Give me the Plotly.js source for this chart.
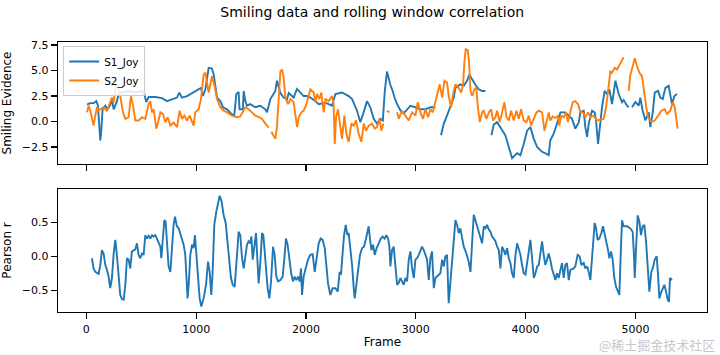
<!DOCTYPE html>
<html>
<head>
<meta charset="utf-8">
<script src="https://cdn.plot.ly/plotly-3.0.1.min.js"></script>
<style>html,body{margin:0;padding:0;background:#fff;}#chart{width:720px;height:355px;}</style>
</head>
<body>
<div id="chart"></div>
<script>
// ---- data ----
const s1Frames = [6,36,66,91,106,121,127,136,148,173,194,218,233,249,279,294,325,385,446,507,528,546,567,628,689,734,780,825,847,871,917,977,1023,1044,1062,1084,1114,1144,1160,1190,1220,1244,1281,1326,1347,1366,1387,1395,1425,1433,1448,1463,1493,1539,1585,1630,1645,1676,1721,1736,1767,1797,1828,1843,1888,1918,1949,1979,2010,2040,2086,2116,2177,2237,2268,2328,2389,2420,2465,2495,2525,2556,2586,2617,2647,2677,2700,2718,2738,2768,2790,2805,2830,2860,2890,2921,2951,2997,3042,3088,3133,3179,3200,3230,3255,3285,3315,3346,3361,3406,3437,3467,3488,3513,3543,3573,3604,3634,3660,3689,3710,3741,3771,3816,3847,3877,3923,3953,3983,3999,4014,4044,4075,4105,4150,4195,4210,4225,4256,4286,4317,4362,4393,4423,4453,4484,4499,4529,4544,4560,4575,4605,4629,4641,4660,4681,4696,4720,4742,4763,4787,4818,4833,4848,4878,4893,4924,4939,4955,4969,5000,5030,5045,5066,5091,5121,5136,5158,5176,5206,5227,5249,5273,5303,5318,5333,5355,5379];
const s1Joy = [1.65,1.8,1.8,2.0,1.55,-0.9,-1.85,-0.9,1.2,1.55,1.2,1.6,2.2,1.2,2.0,2.7,2.85,3.0,2.85,3.0,2.7,1.9,2.4,2.4,2.3,2.0,2.2,2.35,2.84,2.35,2.5,2.84,3.16,3.3,2.5,3.16,5.26,5.2,4.6,2.35,2.0,1.4,1.2,0.7,0.58,2.7,2.9,1.2,1.2,3.0,2.0,1.55,1.7,1.4,1.55,1.2,0.9,2.2,3.0,4.0,2.8,2.35,2.2,2.8,2.35,3.2,2.84,2.5,2.5,2.35,2.0,1.7,1.85,1.55,2.7,2.85,2.5,2.2,1.06,-0.06,0.9,2.0,1.4,0.26,-0.2,0.26,0.1,3.0,4.9,3.6,3.0,2.4,1.7,1.1,0.8,1.2,1.55,1.4,1.2,1.2,1.4,1.4,null,-1.35,-0.2,0.6,1.4,2.35,3.3,3.65,3.5,4.0,4.6,4.1,3.6,3.16,3.0,3.0,null,-1.35,-0.3,-0.06,-0.55,-1.35,-2.5,-3.6,-3.1,-3.3,-2.2,-1.35,-0.9,-0.55,-1.7,-2.5,-2.97,-3.2,-3.3,-1.85,-1.2,-0.2,0.9,0.9,0.58,0.26,-0.7,-0.1,0.9,1.06,-0.55,-1.5,-0.2,1.06,0.9,0.1,-2.2,-0.2,1.4,3.0,2.7,3.16,1.7,4.0,3.3,2.7,1.9,2.1,1.55,1.4,null,1.4,1.9,1.55,2.35,1.06,0.1,0.9,-0.55,0.9,2.84,3.0,2.35,2.2,3.3,3.5,2.35,1.7,2.5,2.7];

const s2Frames = [6,21,36,51,66,82,97,112,157,188,218,233,249,264,279,294,309,334,355,385,406,425,446,476,507,537,567,583,598,613,637,658,674,698,719,741,765,795,826,850,871,892,917,941,962,977,992,1008,1023,1044,1068,1084,1099,1114,1129,1144,1165,1190,1220,1250,1281,1326,1372,1402,1448,1478,1509,1539,1569,1600,1630,1661,1673,1685,1706,1721,1736,1752,1767,1782,1797,1812,1837,1858,1888,1919,1934,1958,1979,2000,2025,2040,2070,2086,2101,2122,2140,2161,2177,2207,2237,2252,2262,2274,2292,2313,2328,2350,2368,2389,2413,2435,2456,2480,2505,2526,2547,2571,2602,2626,2647,2669,2687,2705,2720,2738,2760,2790,2830,2845,2875,2906,2936,2966,2997,3018,3042,3066,3088,3112,3133,3155,3173,3194,3218,3240,3261,3285,3300,3322,3340,3361,3391,3413,3431,3443,3455,3473,3485,3498,3513,3534,3552,3564,3583,3604,3619,3643,3665,3686,3704,3725,3741,3765,3786,3807,3826,3847,3868,3892,3917,3938,3959,3983,4008,4029,4050,4075,4099,4120,4150,4172,4190,4211,4225,4246,4271,4295,4307,4325,4347,4368,4386,4408,4429,4453,4478,4499,4520,4544,4569,4590,4620,4651,4681,4711,4733,4757,4772,4787,4811,4833,4854,4872,4893,4915,4939,4954,4975,4994,5015,5036,5060,5076,5097,5115,5146,5176,5206,5237,5267,5288,5318,5340,5358,5373,5385];
const s2Joy = [0.9,1.55,1.06,0.26,-0.4,0.58,1.4,1.1,1.4,1.06,2.0,2.35,1.9,3.3,3.65,3.0,2.5,0.9,0.26,0.42,2.5,1.55,0.1,0.1,0.42,0.26,1.7,2.0,0.9,1.2,-0.7,0.1,0.9,0.75,-0.06,0.42,-0.4,-0.1,-0.55,1.06,0.26,0.58,0.1,0.58,-0.06,-0.4,0.9,1.06,1.2,2.2,4.6,4.8,3.65,2.84,3.65,4.45,3.65,2.2,1.4,1.06,0.9,0.58,0.42,0.5,1.4,1.2,0.9,0.58,0.45,0.26,-0.2,-0.6,null,-1.0,-1.5,-1.7,-0.55,3.0,4.9,5.1,4.3,2.35,1.7,2.2,1.9,-0.55,0.42,0.9,1.06,1.55,2.5,3.16,2.84,1.9,2.7,2.2,2.84,0.9,2.2,2.0,2.5,1.7,-2.2,0.42,1.2,-0.7,-1.7,0.58,-1.2,-2.0,-0.2,-0.4,0.1,-1.2,-2.0,-0.2,-0.9,-0.4,-0.2,-0.7,-0.55,0.26,-0.9,-0.2,null,1.06,0.9,null,0.9,0.26,1.06,0.58,0.1,0.9,0.58,1.9,0.9,0.26,1.2,0.42,1.2,0.9,1.7,2.35,3.65,2.35,4.0,3.8,2.5,1.4,2.7,3.65,3.3,2.84,3.65,5.9,7.1,7.0,5.9,3.0,2.5,3.16,3.3,1.55,-0.06,0.9,1.06,0.26,0.9,1.2,0.1,0.42,1.06,-0.06,0.9,1.9,0.42,0.1,1.06,0.1,1.06,0.26,1.2,0.1,-0.06,0.58,-0.4,0.26,0.9,1.06,0.9,-0.9,0.1,0.9,0.1,0.5,0.35,0.58,-0.4,0.58,0.42,0.9,-0.06,1.06,1.9,2.0,1.7,0.9,0.9,0.42,0.9,0.42,0.58,0.1,0.16,0.26,1.4,4.0,4.9,4.8,5.26,5.1,5.6,5.9,6.3,null,3.0,4.6,5.4,6.2,5.4,4.8,4.45,3.0,1.55,0.42,-0.06,0.1,0.58,1.06,1.2,0.75,1.06,1.9,1.4,0.1,-0.7];

const rFrames = [51,66,82,112,127,142,157,173,188,203,218,233,249,264,279,294,309,325,340,355,370,385,400,415,431,446,461,476,491,507,522,537,552,567,583,598,613,628,643,658,674,683,698,710,722,734,749,765,780,795,807,825,841,856,871,886,901,910,922,934,947,962,977,989,1001,1014,1032,1047,1068,1090,1108,1123,1138,1150,1165,1184,1202,1214,1232,1250,1269,1281,1299,1317,1333,1351,1372,1387,1402,1418,1433,1448,1463,1478,1493,1503,1515,1530,1545,1557,1569,1585,1600,1612,1624,1639,1651,1667,1682,1700,1715,1730,1746,1767,1788,1806,1818,1833,1849,1867,1882,1897,1913,1928,1943,1955,1964,1979,1994,2019,2040,2061,2080,2098,2116,2134,2152,2171,2186,2201,2222,2243,2268,2289,2307,2319,2335,2347,2362,2377,2389,2404,2420,2435,2444,2459,2474,2492,2511,2529,2547,2559,2571,2583,2596,2611,2626,2644,2662,2681,2699,2717,2732,2748,2760,2769,2784,2799,2814,2830,2845,2860,2875,2890,2906,2921,2936,2951,2966,2982,2997,3012,3027,3042,3057,3073,3088,3103,3118,3133,3148,3164,3179,3194,3209,3224,3240,3255,3270,3285,3300,3315,3331,3346,3361,3376,3391,3406,3421,3437,3461,3482,3498,3513,3528,3543,3558,3573,3589,3604,3619,3634,3649,3665,3680,3695,3710,3725,3741,3756,3771,3786,3801,3816,3832,3847,3862,3877,3892,3908,3923,3938,3953,3968,3983,3999,4014,4029,4044,4059,4075,4090,4105,4120,4135,4150,4165,4180,4195,4210,4225,4240,4271,4286,4301,4317,4332,4347,4362,4377,4393,4408,4438,4453,4474,4492,4508,4529,4544,4560,4575,4590,4611,4629,4641,4656,4672,4690,4705,4720,4735,4751,4763,4778,4793,4808,4824,4842,4854,4866,4878,4893,4924,4954,4975,4987,4994,5006,5021,5036,5051,5066,5081,5097,5112,5127,5145,5158,5176,5194,5206,5218,5237,5249,5264,5279,5294,5306,5315,5333];
const pearsonR = [-0.03,-0.18,-0.23,-0.26,-0.13,0.09,0.04,-0.13,-0.2,-0.3,-0.47,-0.32,0.04,0.24,0.0,-0.37,-0.57,-0.63,-0.64,-0.42,-0.03,-0.05,-0.18,0.07,0.09,0.1,0.19,0.02,-0.03,0.04,0.02,0.31,0.26,0.3,0.26,0.31,0.29,0.31,0.26,0.19,0.14,-0.03,0.36,0.53,0.51,0.17,-0.15,-0.23,0.17,0.46,0.58,0.44,0.41,0.34,0.24,0.17,0.02,-0.25,-0.62,-0.37,0.02,0.17,0.12,0.31,0.07,-0.32,-0.62,-0.74,-0.62,-0.42,-0.08,-0.23,-0.57,-0.23,0.46,0.66,0.83,0.89,0.8,0.61,0.49,0.26,-0.08,-0.32,-0.42,-0.45,0.02,0.36,0.31,-0.03,-0.18,-0.03,0.17,0.22,0.19,0.29,-0.05,0.14,0.34,-0.03,-0.4,-0.08,0.34,0.31,0.09,-0.25,-0.47,-0.62,-0.37,0.14,0.02,-0.3,-0.37,-0.35,-0.3,0.02,0.26,0.17,-0.08,-0.27,-0.37,-0.3,-0.35,-0.3,-0.37,-0.18,-0.57,-0.3,-0.2,-0.05,0.02,0.03,-0.23,-0.05,0.19,0.26,0.24,0.12,-0.18,-0.4,-0.57,-0.47,-0.47,-0.52,-0.23,-0.27,0.07,0.31,0.46,0.31,0.34,0.12,-0.13,-0.47,-0.62,-0.42,-0.23,0.02,0.12,0.14,0.26,0.36,0.44,0.26,0.09,0.17,0.02,0.12,0.19,0.26,0.29,0.26,0.31,0.26,0.14,-0.15,0.09,0.14,-0.13,-0.42,-0.39,-0.32,-0.37,-0.42,-0.32,-0.37,-0.05,0.07,-0.17,-0.32,-0.05,-0.03,0.02,0.07,0.14,0.09,0.02,-0.05,-0.35,-0.03,0.07,-0.47,-0.32,-0.3,-0.27,-0.25,-0.05,-0.15,0.0,0.02,-0.69,-0.37,-0.08,0.22,0.53,0.46,0.34,0.41,0.26,0.14,0.04,-0.08,-0.23,0.19,0.61,0.53,0.44,0.36,0.26,0.19,0.44,0.41,0.46,0.39,0.36,0.29,0.26,0.22,0.14,0.09,-0.18,0.14,0.09,0.02,0.12,-0.03,-0.1,-0.25,-0.32,0.02,0.19,0.09,0.02,-0.13,-0.25,-0.27,-0.13,0.07,0.24,-0.03,-0.32,-0.25,-0.15,-0.13,0.02,0.22,0.02,-0.13,-0.05,0.04,-0.05,-0.18,-0.35,-0.25,-0.32,-0.18,-0.1,-0.32,-0.13,-0.1,-0.35,-0.2,-0.18,-0.15,0.02,0.0,-0.13,-0.1,-0.18,-0.15,-0.23,-0.35,0.17,0.49,0.42,0.24,0.26,0.34,0.44,0.34,0.22,0.09,-0.03,0.07,-0.05,-0.32,-0.45,-0.52,-0.57,0.02,0.53,0.44,0.44,0.41,0.36,0.02,-0.32,0.12,0.6,0.51,0.31,0.44,0.46,0.22,-0.1,-0.52,-0.23,-0.18,-0.05,0.0,-0.27,-0.62,-0.52,-0.47,-0.42,-0.52,-0.64,-0.67,-0.32,-0.35];

const xTicks = [0,1000,2000,3000,4000,5000];
const topTicks = [-2.5,0.0,2.5,5.0,7.5];
const topTickText = ['\u22122.5','0.0','2.5','5.0','7.5'];
const botTicks = [-0.5,0.0,0.5];
const botTickText = ['\u22120.5','0.0','0.5'];

// ---- chart ----
const FONT = 'DejaVu Sans, Liberation Sans, sans-serif';
const traces = [
  {x: s1Frames, y: s1Joy, name: 'S1_Joy', type: 'scatter', mode: 'lines',
   line: {color: '#1f77b4', width: 1.9}, xaxis: 'x', yaxis: 'y', connectgaps: false},
  {x: s2Frames, y: s2Joy, name: 'S2_Joy', type: 'scatter', mode: 'lines',
   line: {color: '#ff7f0e', width: 1.9}, xaxis: 'x', yaxis: 'y', connectgaps: false},
  {x: rFrames, y: pearsonR, name: 'Pearson r', type: 'scatter', mode: 'lines',
   line: {color: '#1f77b4', width: 1.9}, xaxis: 'x2', yaxis: 'y2', showlegend: false}
];

const axCommon = {
  showgrid: false, zeroline: false, showline: true, mirror: true,
  linecolor: '#000', linewidth: 1.3, ticks: 'outside', ticklen: 6, tickwidth: 1.3,
  tickcolor: '#000', tickfont: {family: FONT, size: 11, color: '#000'}
};

const layout = {
  width: 720, height: 355,
  paper_bgcolor: '#fff', plot_bgcolor: '#fff',
  margin: {l: 58, r: 13, t: 42, b: 43},
  font: {family: FONT, color: '#000'},
  title: {text: 'Smiling data and rolling window correlation', x: 0.517, xanchor: 'center',
          y: 0.965, yanchor: 'middle', font: {family: FONT, size: 14, color: '#000'}},
  xaxis: Object.assign({}, axCommon, {anchor: 'y', range: [-258, 5652],
          tickvals: xTicks, showticklabels: false}),
  xaxis2: Object.assign({}, axCommon, {anchor: 'y2', range: [-258, 5652], matches: 'x',
          tickvals: xTicks, ticktext: xTicks.map(String),
          title: {text: 'Frame', font: {family: FONT, size: 12, color: '#000'}, standoff: 3}}),
  yaxis: Object.assign({}, axCommon, {domain: [0.548, 1], range: [-4.17, 7.8],
          tickvals: topTicks, ticktext: topTickText,
          title: {text: 'Smiling Evidence', font: {family: FONT, size: 12, color: '#000'}, standoff: 8}}),
  yaxis2: Object.assign({}, axCommon, {domain: [0, 0.456], range: [-0.82, 0.99],
          tickvals: botTicks, ticktext: botTickText,
          title: {text: 'Pearson r', font: {family: FONT, size: 12, color: '#000'}, standoff: 8}}),
  showlegend: true,
  legend: {x: 0.008, y: 0.985, xanchor: 'left', yanchor: 'top',
           bgcolor: 'rgba(255,255,255,0.85)', bordercolor: '#cccccc', borderwidth: 1,
           font: {family: FONT, size: 10.5, color: '#000'}, tracegroupgap: 0, itemwidth: 30},
  annotations: [
    {text: '@稀土掘金技术社区', xref: 'paper', yref: 'paper', x: 1.016, y: -0.122,
     xanchor: 'right', yanchor: 'middle', showarrow: false,
     font: {family: 'Noto Sans CJK SC, sans-serif', size: 13, color: '#c8c8c8'}}
  ]
};

Plotly.newPlot('chart', traces, layout, {staticPlot: true, displayModeBar: false});
</script>
</body>
</html>
